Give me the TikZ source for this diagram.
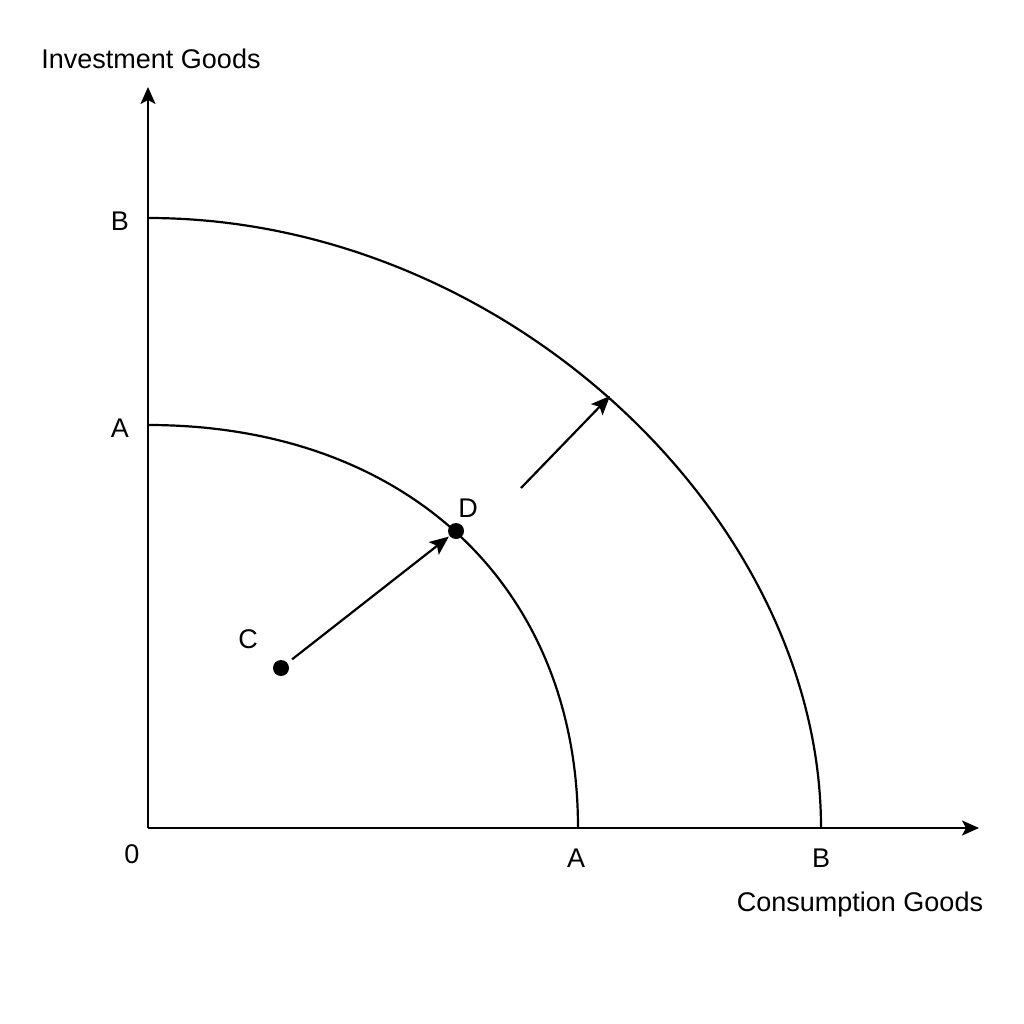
\documentclass[tikz,border=0pt]{standalone}
\usepackage{fontspec}
\setmainfont{Liberation Sans}
\usetikzlibrary{arrows.meta}
\begin{document}
\begin{tikzpicture}[x=1pt,y=-1pt, line width=2.2pt,
 lbl/.style={font=\fontsize{27}{31}\selectfont, inner sep=0pt, anchor=base},
 dot/.style={circle, fill=black, inner sep=0pt, minimum size=16pt},
 axisarrow/.style={-{Stealth[length=17pt,width=15pt,inset=4pt]}},
 shiftarrow/.style={-{Stealth[length=19pt,width=16pt,inset=4pt]}}]
\useasboundingbox[fill=white] (0,0) rectangle (1024,1024);
% axes
\coordinate (O) at (148,828);
\coordinate (ytop) at (148,87);
\coordinate (xend) at (979,828);
\draw[axisarrow] (O) -- (ytop);
\draw[axisarrow] (O) -- (xend);
% curves
\draw (148,425) .. controls (406,425) and (578,586) .. (578,828);
\draw (148,218) .. controls (505,218) and (821,517) .. (821,828);
% points
\node[dot] (C) at (281,668) {};
\node[dot] (D) at (456,531) {};
\draw[shiftarrow, shorten <=5pt] (C) -- (D);
\coordinate (s1) at (521,488);
\coordinate (s2) at (610,396);
\draw[shiftarrow] (s1) -- (s2);
% labels
\node[lbl] (ylab) at (151,69) {Investment Goods};
\node[lbl] (xlab) at (860,911) {Consumption Goods};
\node[lbl] (yB) at (120,231) {B};
\node[lbl] (yA) at (120,437) {A};
\node[lbl] (zero) at (132,863) {0};
\node[lbl] (xA) at (576,867) {A};
\node[lbl] (xB) at (821,867) {B};
\node[lbl] (Clab) at (248,648) {C};
\node[lbl] (Dlab) at (468,517) {D};
\end{tikzpicture}
\end{document}
